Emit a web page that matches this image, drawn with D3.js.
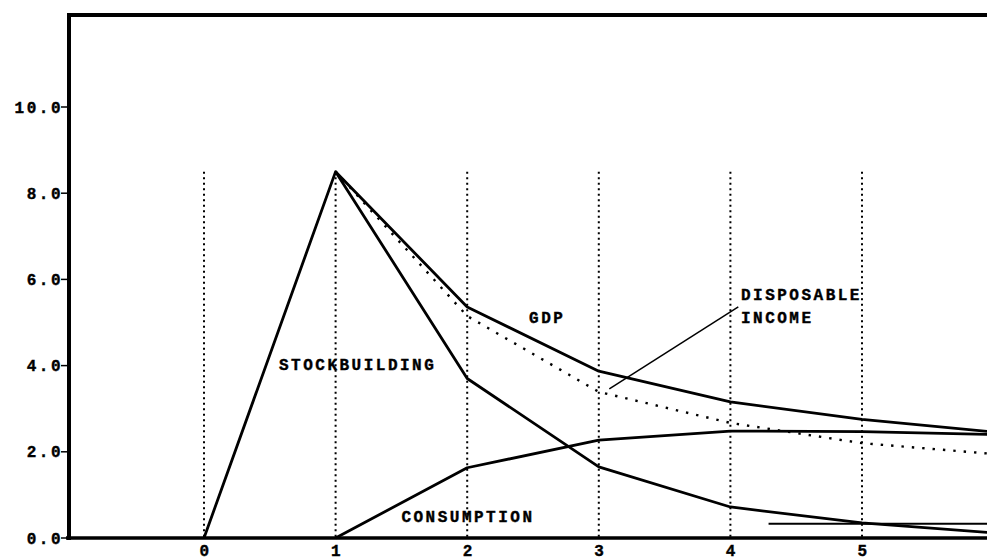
<!DOCTYPE html>
<meta charset="utf-8">
<head>
<script src="https://d3js.org/d3.v7.min.js"></script>
<style>
  body { margin: 0; background: #fff; }
  text { font-family: "Liberation Mono", "DejaVu Sans Mono", monospace; font-weight: bold; font-size: 16px; letter-spacing: 2.5px; fill: #000; stroke: #000; stroke-width: 0.4px; }
</style>
</head>
<body>
<svg></svg>
<script>
// Data
var periods = [0, 1, 2, 3, 4, 5, 6];
var stockbuilding = [0, 8.5, 3.7, 1.65, 0.72, 0.35, 0.12];
var gdp = [null, 8.5, 5.36, 3.87, 3.16, 2.75, 2.46];
var income = [null, 8.5, 5.15, 3.39, 2.67, 2.2, 1.95];
var consumption = [null, 0, 1.63, 2.27, 2.48, 2.47, 2.4];
var xTicks = [0, 1, 2, 3, 4, 5];
var yTicks = [0, 2, 4, 6, 8, 10];

var width = 987, height = 560;
var axisLeft = 69, axisTop = 15, axisBottom = 538;

var svg = d3.select('svg').attr('width', width).attr('height', height);

var x = d3.scaleLinear().domain([0, 5]).range([204, 862]);
var y = d3.scaleLinear().domain([0, 10]).range([axisBottom, 107]);

// dotted period lines
svg.selectAll('.grid')
  .data(xTicks)
  .enter().append('line')
  .attr('x1', function (d) { return x(d); })
  .attr('x2', function (d) { return x(d); })
  .attr('y1', y(8.5))
  .attr('y2', axisBottom)
  .style('stroke', '#000')
  .style('stroke-width', 2)
  .style('stroke-dasharray', '2,3.5');

// frame
svg.append('line').attr('x1', axisLeft).attr('x2', width).attr('y1', axisTop).attr('y2', axisTop)
  .style('stroke', '#000').style('stroke-width', 4);
svg.append('line').attr('x1', axisLeft).attr('x2', axisLeft).attr('y1', axisTop - 2).attr('y2', axisBottom + 2)
  .style('stroke', '#000').style('stroke-width', 4);
svg.append('line').attr('x1', axisLeft - 3).attr('x2', width).attr('y1', axisBottom).attr('y2', axisBottom)
  .style('stroke', '#000').style('stroke-width', 3.5);

// y ticks
var yt = svg.selectAll('.ytick').data(yTicks).enter().append('g')
  .attr('transform', function (d) { return 'translate(0,' + y(d) + ')'; });
yt.append('line').attr('x1', 61).attr('x2', axisLeft).style('stroke', '#000').style('stroke-width', 1.5);
yt.append('text').attr('x', 63).attr('dy', '0.35em').attr('text-anchor', 'end')
  .text(function (d) { return d.toFixed(1); });

// x tick labels
svg.selectAll('.xlab').data(xTicks).enter().append('text')
  .attr('x', function (d) { return x(d) + 1.5; })
  .attr('y', 556)
  .attr('text-anchor', 'middle')
  .text(function (d) { return d; });

function series(vals) {
  return periods.map(function (p, i) { return [p, vals[i]]; });
}
var line = d3.line()
  .defined(function (d) { return d[1] !== null; })
  .x(function (d) { return x(d[0]); })
  .y(function (d) { return y(d[1]); });

[stockbuilding, gdp, consumption].forEach(function (s) {
  svg.append('path').datum(series(s)).attr('d', line)
    .style('fill', 'none').style('stroke', '#000').style('stroke-width', 2.8)
    .style('stroke-linejoin', 'round');
});
svg.append('path').datum(series(income)).attr('d', line)
  .style('fill', 'none').style('stroke', '#000').style('stroke-width', 2.4)
  .style('stroke-dasharray', '2.4,8');

// stray horizontal stroke near the bottom right
svg.append('line').attr('x1', x(4.29)).attr('x2', width).attr('y1', y(0.33)).attr('y2', y(0.33))
  .style('stroke', '#000').style('stroke-width', 2);

// labels
var labels = [
  { t: 'STOCKBUILDING', px: 0.57, py: 3.9 },
  { t: 'GDP', px: 2.47, py: 4.99 },
  { t: 'CONSUMPTION', px: 1.5, py: 0.37 },
  { t: 'DISPOSABLE', px: 4.08, py: 5.52 },
  { t: 'INCOME', px: 4.08, py: 4.99 }
];
svg.selectAll('.lab').data(labels).enter().append('text')
  .attr('x', function (d) { return x(d.px); })
  .attr('y', function (d) { return y(d.py); })
  .text(function (d) { return d.t; });

// leader line
svg.append('line')
  .attr('x1', x(3.08)).attr('y1', y(3.46))
  .attr('x2', x(4.06)).attr('y2', y(5.36))
  .style('stroke', '#000').style('stroke-width', 1.5);
</script>
</body>
</html>
